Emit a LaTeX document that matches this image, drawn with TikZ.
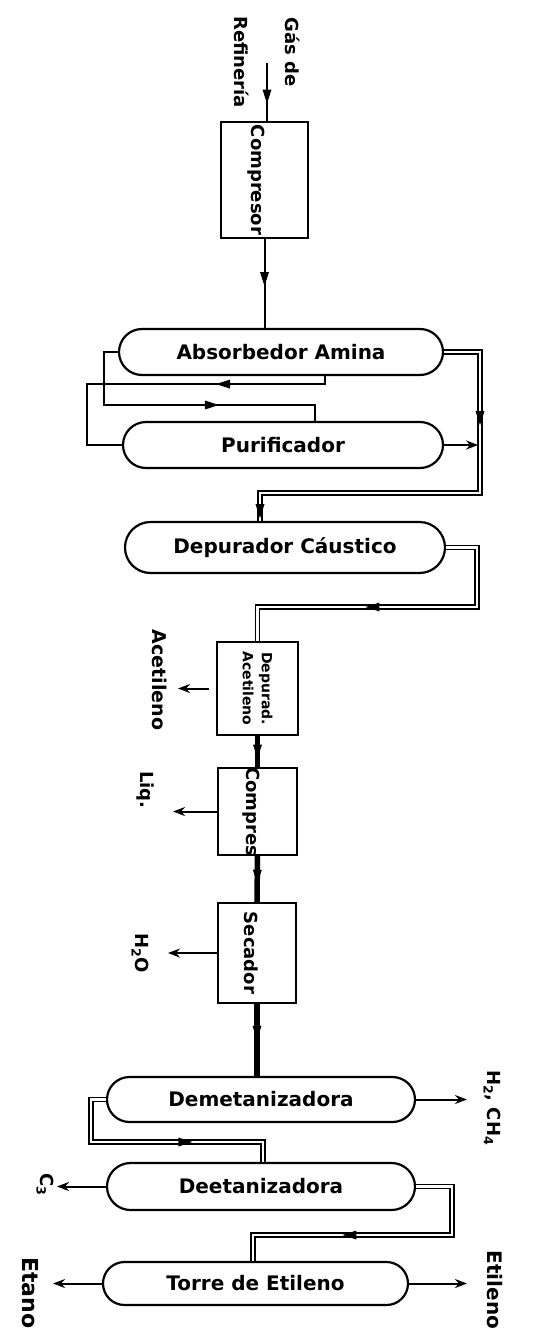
\documentclass[tikz,border=0pt]{standalone}
\usepackage{fontspec}
\setmainfont{DejaVu Sans}
\usepackage{tikz}
\usetikzlibrary{shapes,arrows.meta,positioning,calc,decorations.markings}

\tikzset{
  vessel/.style={rounded rectangle, draw, line width=2.2pt, inner sep=0pt, minimum height=46pt, font=\fontsize{20}{24}\selectfont\bfseries},
  unitbox/.style={rectangle, draw, line width=2.2pt, inner sep=0pt},
  vlabel/.style={rotate=-90, font=\fontsize{18}{22}\selectfont\bfseries},
  line/.style={line width=2pt},
  pipe/.style={draw, double, double distance=2.4pt, line width=1.4pt},
  stream/.style={line width=5.5pt},
  outarrow/.style={line width=2pt, -{Stealth[length=12pt,width=9pt]}},
  tipat/.style={postaction={decorate}, decoration={markings, mark=at position #1 with {\fill (7pt,0pt) -- (-7pt,4.5pt) -- (-7pt,-4.5pt) -- cycle;}}},
  tiptwo/.style 2 args={postaction={decorate}, decoration={markings,
      mark=at position #1 with {\fill (7pt,0pt) -- (-7pt,4.5pt) -- (-7pt,-4.5pt) -- cycle;},
      mark=at position #2 with {\fill (7pt,0pt) -- (-7pt,4.5pt) -- (-7pt,-4.5pt) -- cycle;}}}
}

\begin{document}
\begin{tikzpicture}[x=1pt,y=-1pt]
\useasboundingbox (0,0) rectangle (540,1343);

% equipos
\node[unitbox, minimum width=87pt, minimum height=116pt] (comp1) at (264.5,180) {};
\node[vlabel] (comp1txt) at ([xshift=-8pt]comp1.center) {Compresor};
\node[vessel, minimum width=324pt] (abs) at (281,352) {Absorbedor Amina};
\node[vessel, minimum width=320pt] (pur) at (283,445) {Purificador};
\node[vessel, minimum width=320pt, minimum height=51pt] (caus) at (285,547.5) {Depurador Cáustico};
\node[unitbox, minimum width=81pt, minimum height=93pt] (acet) at (257.5,688.5) {};
\node[vlabel, font=\fontsize{14}{19}\selectfont\bfseries, align=center] (acettxt) at (acet) {Depurad.\\Acetileno};
\node[unitbox, minimum width=79pt, minimum height=87pt] (comp2) at (257.5,811.5) {};
\node[vlabel] (comp2txt) at ([xshift=-6pt]comp2.center) {Compres};
\node[unitbox, minimum width=78pt, minimum height=100pt] (sec) at (257,953) {};
\node[vlabel] (sectxt) at ([xshift=-6pt]sec.center) {Secador};
\node[vessel, minimum width=308pt, minimum height=45pt] (demet) at (261,1099.5) {Demetanizadora};
\node[vessel, minimum width=308pt, minimum height=47pt] (deet) at (261,1186.5) {Deetanizadora};
\node[vessel, minimum width=305pt, minimum height=43pt] (torre) at (255.5,1283.5) {Torre de Etileno};

% extremos libres
\coordinate (gasin) at (267,63);
\coordinate (acetout) at (178,688.5);
\coordinate (liqout) at (173,811.5);
\coordinate (h2oout) at (168,953);
\coordinate (ligout) at (467,1099.5);
\coordinate (c3out) at (57,1186.5);
\coordinate (etanoout) at (53,1283.5);
\coordinate (etilout) at (467,1283.5);

% corrientes
\draw[line, tipat=0.58] (gasin) -- (gasin |- comp1.north);
\draw[line, tipat=0.45] (comp1.south) -- (comp1.south |- abs.north);
\draw[line, tipat=175pt] (abs.west) -- ++(-14,0) -- ++(0,53) -| ([xshift=32pt]pur.north);
\draw[line, tipat=110pt] ([xshift=44pt]abs.south) -- ++(0,8) -| ([xshift=-35pt]pur.west) -- (pur.west);
\draw[pipe, tiptwo={102pt}{415pt}] (abs.east) -| (480,493) -| ([xshift=-25pt]caus.north);
\draw[outarrow] (pur.east) -- ++(34,0);
\draw[pipe, tipat=195pt] (caus.east) -| (477,607) -| (acet.north);
\draw[stream, tipat=0.5] (acet.south) -- (comp2.north);
\draw[stream, tipat=0.45] (comp2.south) -- (sec.north);
\draw[stream, tipat=0.4] (sec.south) -- (sec.south |- demet.north);
\draw[outarrow] ([xshift=-7pt]acet.west) -- (acetout);
\draw[outarrow] (comp2.west) -- (liqout);
\draw[outarrow] (sec.west) -- (h2oout);
\draw[outarrow] (demet.east) -- (ligout);
\draw[pipe, tipat=152pt] (demet.west) -- ++(-15,0) -- ++(0,42.5) -| ([xshift=2pt]deet.north);
\draw[outarrow] (deet.west) -- (c3out);
\draw[pipe, tipat=187pt] (deet.east) -| (452,1235) -| ([xshift=-2.5pt]torre.north);
\draw[outarrow] (torre.west) -- (etanoout);
\draw[outarrow] (torre.east) -- (etilout);

% rotulos
\node[vlabel] (gaslbl) at (293,52) {Gás de};
\node[vlabel] (reflbl) at (242,62) {Refinería};
\node[vlabel, font=\fontsize{19}{23}\selectfont\bfseries] (acetlbl) at (160,680) {Acetileno};
\node[vlabel] (liqlbl) at (145,790) {Liq.};
\node[vlabel] (h2olbl) at (140,953) {H\textsubscript{2}O};
\node[vlabel] (liglbl) at (492,1108) {H\textsubscript{2}, CH\textsubscript{4}};
\node[vlabel] (c3lbl) at (45,1185) {C\textsubscript{3}};
\node[vlabel, font=\fontsize{22}{26}\selectfont\bfseries] (etanolbl) at (30,1293) {Etano};
\node[vlabel, font=\fontsize{20}{24}\selectfont\bfseries] (etillbl) at (495,1290) {Etileno};
\end{tikzpicture}
\end{document}
